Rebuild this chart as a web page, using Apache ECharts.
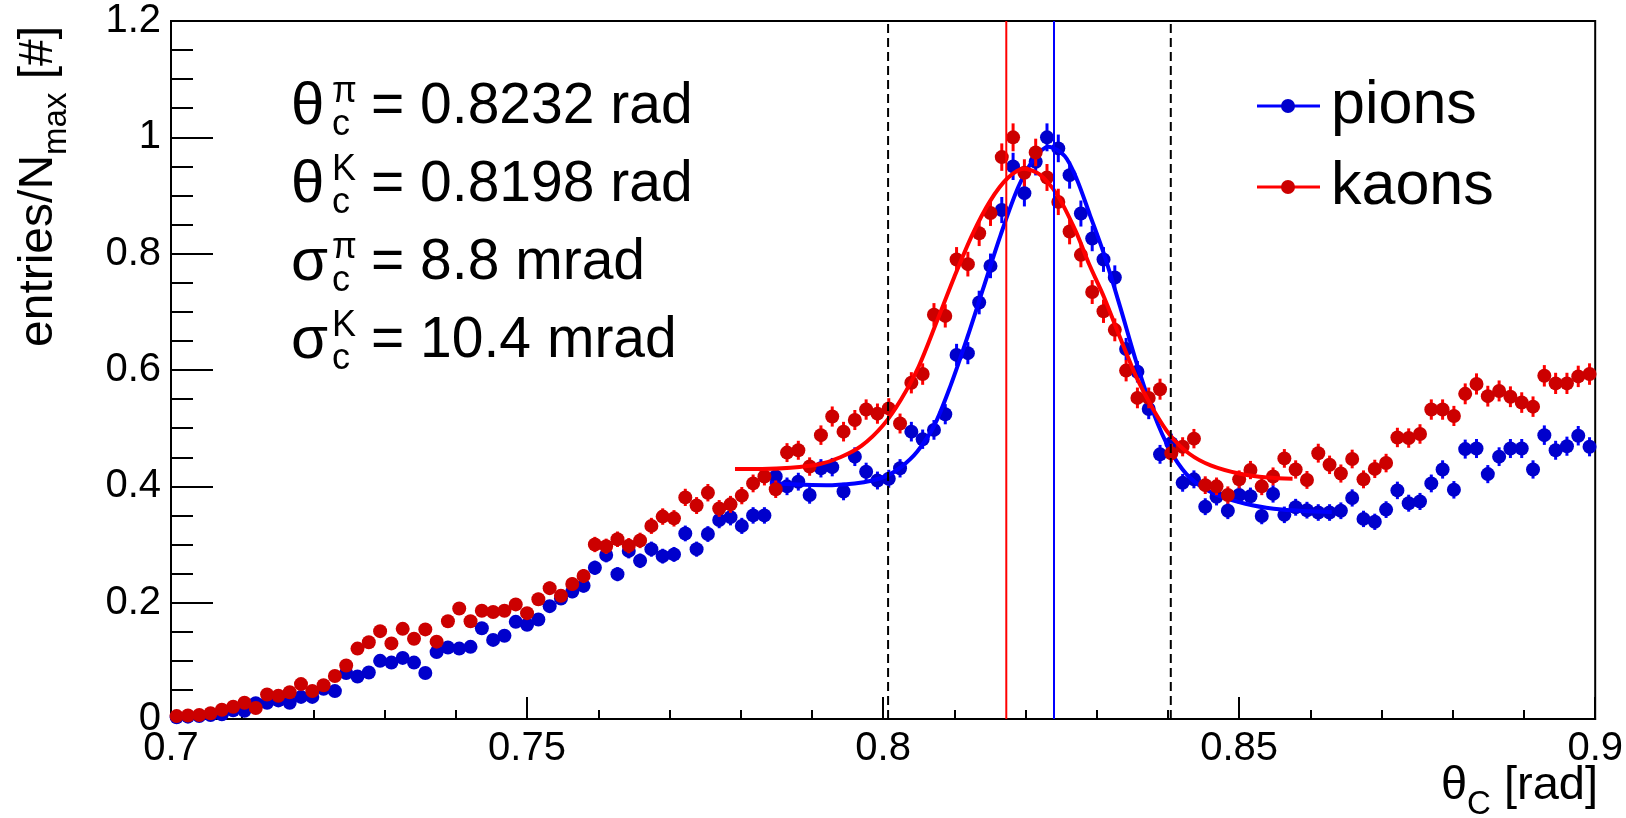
<!DOCTYPE html>
<html>
<head>
<meta charset="utf-8">
<script src="https://cdn.jsdelivr.net/npm/echarts@6/dist/echarts.min.js"></script>
<style>html,body{margin:0;padding:0;background:#fff}#c{width:1626px;height:818px}</style>
</head>
<body>
<div id="c"></div>
<script>
// ---- histogram definition ----
const X_MIN = 0.7, X_MAX = 0.9, N_BINS = 126;
const Y_MIN = 0, Y_MAX = 1.2;

// ---- series values (entries / N_max), one per bin ----
const pions = [
0.003,0.004,0.005,0.007,0.008,0.015,0.014,0.027,0.028,0.032,
0.028,0.038,0.038,0.052,0.048,0.079,0.073,0.080,0.100,0.097,
0.105,0.097,0.079,0.115,0.123,0.121,0.124,0.156,0.136,0.143,
0.167,0.162,0.171,0.194,0.207,0.219,0.229,0.260,0.282,0.249,
0.289,0.272,0.292,0.280,0.283,0.319,0.292,0.318,0.342,0.347,
0.332,0.350,0.350,0.417,0.400,0.408,0.385,0.431,0.433,0.391,
0.451,0.425,0.410,0.413,0.431,0.494,0.481,0.497,0.524,0.626,
0.629,0.716,0.779,0.875,0.950,0.904,0.958,1.000,0.981,0.935,
0.869,0.826,0.790,0.759,0.636,0.597,0.533,0.455,0.474,0.406,
0.412,0.365,0.382,0.358,0.385,0.383,0.349,0.387,0.351,0.364,
0.359,0.355,0.355,0.358,0.380,0.344,0.339,0.360,0.393,0.371,
0.374,0.405,0.429,0.394,0.464,0.465,0.421,0.451,0.465,0.465,
0.429,0.488,0.462,0.469,0.487,0.468
];
const kaons = [
0.005,0.006,0.007,0.010,0.016,0.021,0.028,0.019,0.042,0.040,
0.046,0.060,0.048,0.058,0.074,0.092,0.121,0.132,0.151,0.130,
0.155,0.138,0.154,0.133,0.168,0.190,0.168,0.186,0.184,0.186,
0.197,0.182,0.206,0.225,0.212,0.232,0.246,0.300,0.297,0.309,
0.298,0.307,0.332,0.348,0.345,0.381,0.367,0.389,0.362,0.369,
0.384,0.405,0.417,0.395,0.458,0.462,0.434,0.488,0.520,0.494,
0.514,0.532,0.525,0.534,0.508,0.578,0.593,0.695,0.693,0.790,
0.782,0.835,0.870,0.966,1.000,0.939,0.974,0.931,0.889,0.838,
0.798,0.734,0.701,0.669,0.599,0.552,0.552,0.567,0.457,0.468,
0.482,0.402,0.400,0.385,0.412,0.428,0.400,0.417,0.448,0.429,
0.411,0.457,0.437,0.422,0.447,0.412,0.430,0.440,0.484,0.483,
0.490,0.532,0.532,0.521,0.559,0.576,0.555,0.564,0.554,0.544,
0.537,0.590,0.577,0.577,0.589,0.593
];
// statistical error scale (error = ERR_SCALE * sqrt(value))
const ERR_SCALE = 0.024;

// ---- fit curves: [theta, value] ----
const pionFit = [
[0.7841,0.406],[0.7880,0.403],[0.7920,0.402],[0.7960,0.405],[0.7985,0.410],
[0.8005,0.418],[0.8025,0.433],[0.8048,0.460],[0.8072,0.505],[0.8095,0.574],
[0.8118,0.655],[0.8140,0.738],[0.8165,0.832],[0.8190,0.915],[0.8212,0.963],
[0.8232,0.984],[0.8255,0.968],[0.8272,0.928],[0.8290,0.868],[0.8310,0.800],
[0.8333,0.708],[0.8356,0.612],[0.8380,0.525],[0.8403,0.462],[0.8426,0.421],
[0.8450,0.397],[0.8480,0.380],[0.8520,0.367],[0.8560,0.360],[0.8600,0.357],
[0.8630,0.356]
];
const kaonFit = [
[0.7792,0.430],[0.7830,0.430],[0.7870,0.432],[0.7910,0.438],[0.7940,0.450],
[0.7970,0.470],[0.8000,0.505],[0.8025,0.549],[0.8050,0.606],[0.8075,0.682],
[0.8100,0.760],[0.8125,0.832],[0.8150,0.890],[0.8175,0.930],[0.8198,0.946],
[0.8220,0.936],[0.8245,0.900],[0.8270,0.840],[0.8290,0.780],[0.8310,0.726],
[0.8333,0.655],[0.8356,0.587],[0.8380,0.531],[0.8403,0.488],[0.8430,0.456],
[0.8460,0.436],[0.8500,0.422],[0.8540,0.415],[0.8575,0.413]
];

// ---- reference lines ----
const LINE_PION = 0.8240, LINE_KAON = 0.8173;
const WINDOW_LO = 0.8007, WINDOW_HI = 0.8404;

// ---- texts ----
const fitTexts = [
  {sym: 'θ', sup: 'π', sub: 'c', rest: '= 0.8232 rad'},
  {sym: 'θ', sup: 'K', sub: 'c', rest: '= 0.8198 rad'},
  {sym: 'σ', sup: 'π', sub: 'c', rest: '= 8.8 mrad'},
  {sym: 'σ', sup: 'K', sub: 'c', rest: '= 10.4 mrad'}
];
const legendNames = ['pions', 'kaons'];

const FONT = '"Liberation Sans", Arial, Helvetica, sans-serif';
const BLUE_M = '#0000cc', BLUE_L = '#0000ff', RED_M = '#cc0000', RED_L = '#ff0000';
const BIN = (X_MAX - X_MIN) / N_BINS;
const MARKER_R = 7;

function histData(vals) {
  return vals.map((v, i) => [X_MIN + (i + 0.5) * BIN, v, ERR_SCALE * Math.sqrt(v)]);
}
function histSeries(name, vals, mColor, lColor, z) {
  return {
    type: 'custom', name: name, data: histData(vals), z: z,
    encode: {x: 0, y: 1},
    renderItem: function (params, api) {
      const x = api.value(0), y = api.value(1), e = api.value(2);
      const p = api.coord([x, y]);
      const t = api.coord([x, y + e]);
      const b = api.coord([x, y - e]);
      return {type: 'group', children: [
        {type: 'line', shape: {x1: p[0], y1: t[1], x2: p[0], y2: b[1]}, style: {stroke: lColor, lineWidth: 3}},
        {type: 'circle', shape: {cx: p[0], cy: p[1], r: MARKER_R}, style: {fill: mColor}}
      ]};
    }
  };
}
function vline(x, color, width, dash, z) {
  return {type: 'line', data: [[x, Y_MIN], [x, Y_MAX]], symbol: 'none', silent: true, z: z,
    lineStyle: {color: color, width: width, type: dash || 'solid'}};
}

const chart = echarts.init(document.getElementById('c'), null, {renderer: 'canvas'});

const graphics = [];
const lineY0 = 107, lineStep = 78;
fitTexts.forEach((t, i) => {
  const cy = lineY0 + i * lineStep;
  graphics.push({type: 'text', x: 291, y: cy, style: {text: t.sym, font: '60px ' + FONT, fill: '#000', verticalAlign: 'middle', align: 'left'}});
  graphics.push({type: 'text', x: 332, y: cy - 15, style: {text: t.sup, font: '36px ' + FONT, fill: '#000', verticalAlign: 'middle', align: 'left'}});
  graphics.push({type: 'text', x: 332, y: cy + 18, style: {text: t.sub, font: '36px ' + FONT, fill: '#000', verticalAlign: 'middle', align: 'left'}});
  graphics.push({type: 'text', x: 371, y: cy, style: {text: t.rest, font: '57px ' + FONT, fill: '#000', verticalAlign: 'middle', align: 'left'}});
});
// legend
[[legendNames[0], BLUE_L, BLUE_M, 106], [legendNames[1], RED_L, RED_M, 187]].forEach(l => {
  graphics.push({type: 'line', shape: {x1: 1257, y1: l[3], x2: 1320, y2: l[3]}, style: {stroke: l[1], lineWidth: 3}});
  graphics.push({type: 'circle', shape: {cx: 1288, cy: l[3], r: MARKER_R}, style: {fill: l[2]}});
  graphics.push({type: 'text', x: 1331, y: l[3], style: {text: l[0], font: '61px ' + FONT, fill: '#000', verticalAlign: 'middle', align: 'left'}});
});
// axis titles
graphics.push({type: 'text', x: 1598, y: 786, style: {
  text: '{t|θ}{s|C}{t| [rad]}', align: 'right', verticalAlign: 'middle',
  rich: {t: {font: '47px ' + FONT, fill: '#000', verticalAlign: 'middle', lineHeight: 70},
         s: {font: '33px ' + FONT, fill: '#000', verticalAlign: 'bottom', lineHeight: 70}}
}});
graphics.push({type: 'text', x: 39, y: 347, rotation: Math.PI / 2, style: {
  text: '{t|entries/N}{s|max}{t| [#]}', align: 'left', verticalAlign: 'middle',
  rich: {t: {font: '48px ' + FONT, fill: '#000', verticalAlign: 'middle', lineHeight: 68},
         s: {font: '33px ' + FONT, fill: '#000', verticalAlign: 'bottom', lineHeight: 68}}
}});

const fmt = v => String(Math.round(v * 100) / 100);

chart.setOption({
  animation: false,
  backgroundColor: '#fff',
  grid: {left: 171, right: 26, top: 21, bottom: 99, show: true, borderColor: '#000', borderWidth: 2, backgroundColor: 'transparent'},
  xAxis: {
    type: 'value', min: X_MIN, max: X_MAX, interval: 0.05,
    axisLine: {show: true, onZero: false, lineStyle: {color: '#000', width: 2}},
    axisTick: {show: true, inside: true, length: 22, lineStyle: {color: '#000', width: 2}},
    minorTick: {show: true, splitNumber: 5, length: 9, lineStyle: {color: '#000', width: 2}},
    splitLine: {show: false},
    axisLabel: {color: '#000', fontSize: 40, fontFamily: FONT, margin: 10, formatter: fmt, showMinLabel: true, showMaxLabel: true}
  },
  yAxis: {
    type: 'value', min: Y_MIN, max: Y_MAX, interval: 0.2,
    axisLine: {show: true, lineStyle: {color: '#000', width: 2}},
    axisTick: {show: true, inside: true, length: 42, lineStyle: {color: '#000', width: 2}},
    minorTick: {show: true, splitNumber: 4, length: 22, lineStyle: {color: '#000', width: 2}},
    splitLine: {show: false},
    axisLabel: {color: '#000', fontSize: 40, fontFamily: FONT, margin: 10, formatter: fmt}
  },
  graphic: graphics,
  series: [
    histSeries('pions', pions, BLUE_M, BLUE_L, 2),
    {type: 'line', name: 'pion fit', data: pionFit, smooth: 0.3, symbol: 'none', z: 3, lineStyle: {color: BLUE_L, width: 4}},
    histSeries('kaons', kaons, RED_M, RED_L, 4),
    {type: 'line', name: 'kaon fit', data: kaonFit, smooth: 0.3, symbol: 'none', z: 5, lineStyle: {color: RED_L, width: 4}},
    vline(LINE_KAON, RED_L, 2, null, 6),
    vline(LINE_PION, BLUE_L, 2, null, 6),
    vline(WINDOW_LO, '#000', 2, [9, 5], 7),
    vline(WINDOW_HI, '#000', 2, [9, 5], 7)
  ]
});
</script>
</body>
</html>
